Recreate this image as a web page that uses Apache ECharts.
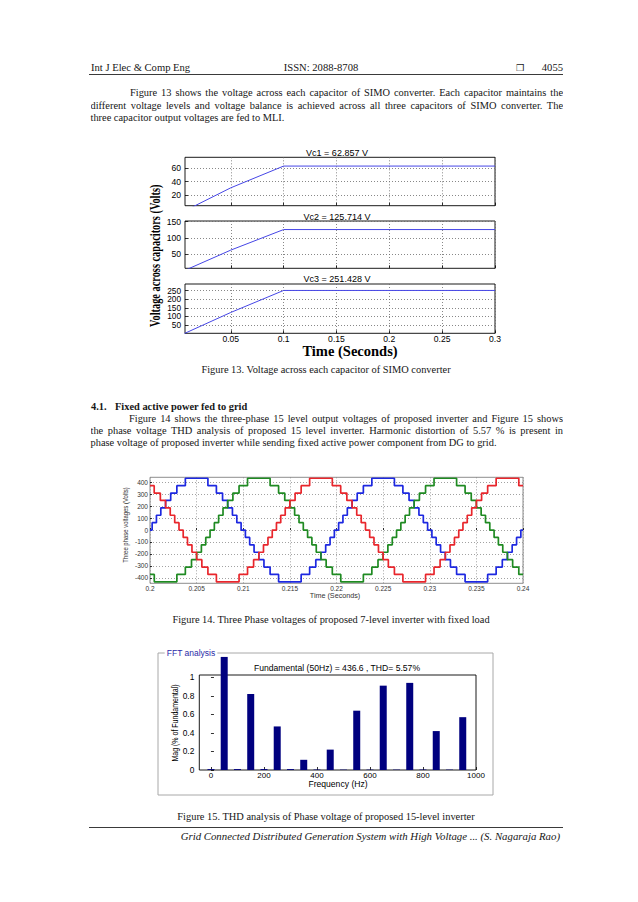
<!DOCTYPE html>
<html>
<head>
<meta charset="utf-8">
<script src="https://cdn.jsdelivr.net/npm/echarts@6/dist/echarts.min.js"></script>
<style>
html,body{margin:0;padding:0;background:#fff;}
#page{position:relative;width:638px;height:902px;overflow:hidden;background:#fff;}
#chart{position:absolute;left:0;top:0;width:638px;height:902px;}
.t{position:absolute;font-family:"Liberation Serif","Times New Roman",serif;font-size:10.4px;line-height:12px;height:12px;color:#161616;white-space:nowrap;}
.j{text-align:justify;text-align-last:justify;white-space:normal;overflow:hidden;}
.c{text-align:center;}
.b{font-weight:bold;}
.i{font-style:italic;}
.rule{position:absolute;left:89px;width:474px;height:0;border-top:1px solid #3a3a3a;}
</style>
</head>
<body>
<div id="page">
  <div id="chart"></div>

  <div class="t" style="left:91px;top:61.5px;font-size:10.6px;">Int J Elec &amp; Comp Eng</div>
  <div class="t c" style="left:221px;top:61.5px;width:200px;font-size:10.6px;">ISSN: 2088-8708</div>
  <div class="t" style="left:516px;top:61.5px;font-family:'DejaVu Sans',sans-serif;font-size:9px;">&#10066;</div>
  <div class="t" style="left:503px;top:61.5px;width:60px;text-align:right;font-size:10.6px;">4055</div>
  <div class="rule" style="top:74px;"></div>

  <div class="t j" style="left:130px;top:87.3px;width:433px;">Figure 13 shows the voltage across each capacitor of SIMO converter. Each capacitor maintains the</div>
  <div class="t j" style="left:90.5px;top:99.7px;width:472.5px;">different voltage levels and voltage balance is achieved across all three capacitors of SIMO converter. The</div>
  <div class="t" style="left:90.5px;top:112.3px;">three capacitor output voltages are fed to MLI.</div>

  <div class="t c" style="left:89px;top:364px;width:474px;">Figure 13. Voltage across each capacitor of SIMO converter</div>

  <div class="t b" style="left:91px;top:400.7px;">4.1.</div>
  <div class="t b" style="left:115px;top:400.7px;">Fixed active power fed to grid</div>
  <div class="t j" style="left:129px;top:413.3px;width:434px;">Figure 14 shows the three-phase 15 level output voltages of proposed inverter and Figure 15 shows</div>
  <div class="t j" style="left:90.5px;top:425.3px;width:472.5px;">the phase voltage THD analysis of proposed 15 level inverter. Harmonic distortion of 5.57 % is present in</div>
  <div class="t" style="left:90.5px;top:437.3px;">phase voltage of proposed inverter while sending fixed active power component from DG to grid.</div>

  <div class="t c" style="left:94px;top:614px;width:474px;">Figure 14. Three Phase voltages of proposed 7-level inverter with fixed load</div>
  <div class="t c" style="left:89px;top:810.7px;width:474px;">Figure 15. THD analysis of Phase voltage of proposed 15-level inverter</div>
  <div class="rule" style="top:826.5px;"></div>
  <div class="t i" style="right:78px;top:829.7px;text-align:right;font-size:10.8px;">Grid Connected Distributed Generation System with High Voltage ... (S. Nagaraja Rao)</div>
</div>

<script>
// ---------------- Figure 13: capacitor voltages of SIMO converter ----------------
const vc1Time = [0.010, 0.050, 0.100, 0.300];
const vc1Volt = [0, 31, 62.857, 62.857];
const vc2Time = [0.007, 0.050, 0.100, 0.300];
const vc2Volt = [0, 62, 125.714, 125.714];
const vc3Time = [0.006, 0.050, 0.100, 0.300];
const vc3Volt = [0, 123, 251.428, 251.428];
const fig13Titles = ['Vc1 = 62.857 V', 'Vc2 = 125.714 V', 'Vc3 = 251.428 V'];
const fig13XTicks = [0.05, 0.1, 0.15, 0.2, 0.25, 0.3];
const vc1YTicks = [20, 40, 60];
const vc2YTicks = [50, 100, 150];
const vc3YTicks = [50, 100, 150, 200, 250];

// ---------------- Figure 14: three phase staircase voltages ----------------
// switching instants in milliseconds after t = 0.2 s, and the level held after each instant (V)
const phaseStartTime = 0.2;
const blueMs = [0, 0.23, 0.69, 1.16, 1.67, 2.22, 2.88, 3.79, 6.21, 7.12, 7.78, 8.33, 8.84, 9.31, 9.77,
  10.23, 10.69, 11.16, 11.67, 12.22, 12.88, 13.79, 16.21, 17.12, 17.78, 18.33, 18.84, 19.31, 19.77,
  20.23, 20.69, 21.16, 21.67, 22.22, 22.88, 23.79, 26.21, 27.12, 27.78, 28.33, 28.84, 29.31, 29.77,
  30.23, 30.69, 31.16, 31.67, 32.22, 32.88, 33.79, 36.21, 37.12, 37.78, 38.33, 38.84, 39.31, 39.77, 40];
const blueVolt = [0, 62, 124, 186, 248, 310, 372, 434, 372, 310, 248, 186, 124, 62, 0,
  -62, -124, -186, -248, -310, -372, -434, -372, -310, -248, -186, -124, -62, 0,
  62, 124, 186, 248, 310, 372, 434, 372, 310, 248, 186, 124, 62, 0,
  -62, -124, -186, -248, -310, -372, -434, -372, -310, -248, -186, -124, -62, 0, 0];
const greenMs = [0, 0.46, 2.88, 3.79, 4.45, 5.00, 5.51, 5.98, 6.44, 6.90, 7.36, 7.83, 8.33, 8.89, 9.55, 10.46,
  12.88, 13.79, 14.45, 15.00, 15.51, 15.98, 16.44, 16.90, 17.36, 17.83, 18.33, 18.89, 19.55,
  20.46, 22.88, 23.79, 24.45, 25.00, 25.51, 25.98, 26.44, 26.90, 27.36, 27.83, 28.33, 28.89, 29.55, 30.46,
  32.88, 33.79, 34.45, 35.00, 35.51, 35.98, 36.44, 36.90, 37.36, 37.83, 38.33, 38.89, 39.55, 40];
const greenVolt = [-372, -434, -372, -310, -248, -186, -124, -62, 0, 62, 124, 186, 248, 310, 372, 434,
  372, 310, 248, 186, 124, 62, 0, -62, -124, -186, -248, -310, -372,
  -434, -372, -310, -248, -186, -124, -62, 0, 62, 124, 186, 248, 310, 372, 434,
  372, 310, 248, 186, 124, 62, 0, -62, -124, -186, -248, -310, -372, -372];
const redMs = [0, 0.45, 1.11, 1.67, 2.17, 2.65, 3.11, 3.56, 4.02, 4.50, 5.00, 5.56, 6.21, 7.12,
  9.55, 10.46, 11.11, 11.67, 12.17, 12.65, 13.11, 13.56, 14.02, 14.50, 15.00, 15.56, 16.21, 17.12, 19.55,
  20.45, 21.11, 21.67, 22.17, 22.65, 23.11, 23.56, 24.02, 24.50, 25.00, 25.56, 26.21, 27.12,
  29.55, 30.46, 31.11, 31.67, 32.17, 32.65, 33.11, 33.56, 34.02, 34.50, 35.00, 35.56, 36.21, 37.12, 39.55, 40];
const redVolt = [372, 310, 248, 186, 124, 62, 0, -62, -124, -186, -248, -310, -372, -434,
  -372, -310, -248, -186, -124, -62, 0, 62, 124, 186, 248, 310, 372, 434, 372,
  310, 248, 186, 124, 62, 0, -62, -124, -186, -248, -310, -372, -434,
  -372, -310, -248, -186, -124, -62, 0, 62, 124, 186, 248, 310, 372, 434, 372, 372];
const fig14XTicks = [0.2, 0.205, 0.21, 0.215, 0.22, 0.225, 0.23, 0.235, 0.24];
const fig14YTicks = [-400, -300, -200, -100, 0, 100, 200, 300, 400];

// ---------------- Figure 15: FFT analysis ----------------
const harmonicHz  = [0, 50, 100, 150, 200, 250, 300, 350, 400, 450, 500, 550, 600, 650, 700, 750, 800, 850, 900, 950];
const harmonicMag = [0.01, 1.22, 0.01, 0.82, 0.01, 0.47, 0.01, 0.11, 0.005, 0.22, 0.004, 0.64, 0.004, 0.91, 0.004, 0.94, 0.005, 0.42, 0.004, 0.57];
const fftXTicks = [0, 200, 400, 600, 800, 1000];
const fftYTicks = [0, 0.2, 0.4, 0.6, 0.8, 1];
const fftTitle = 'Fundamental (50Hz) = 436.6 , THD= 5.57%';

// ---------------- build ----------------
const SANS = '"Liberation Sans", Arial, Helvetica, sans-serif';
const SERIF = '"Liberation Serif", "Times New Roman", serif';
const fmt = v => String(Math.round(v * 10000) / 10000);
const zip = (xs, ys) => xs.map((x, i) => [x, ys[i]]);
const stepData = (ms, v) => ms.map((m, i) => [phaseStartTime + m / 1000, v[i]]);

function axis(gi, min, max, ticks, o) {
  return {
    type: 'value', gridIndex: gi, min: min, max: max,
    axisLine: { show: false },
    axisTick: { show: true, inside: true, length: o.tick || 3, customValues: ticks,
      lineStyle: { color: o.tickColor || '#000', width: 0.8 } },
    axisLabel: { show: o.labels !== false, customValues: ticks, fontSize: o.fs, fontFamily: SANS,
      color: o.labelColor || '#000', margin: o.margin, formatter: fmt,
      showMinLabel: true, showMaxLabel: true, hideOverlap: false },
    splitLine: { show: o.split !== false,
      lineStyle: { color: o.gridColor || '#6a6a6a', width: 0.8, type: [1, 2] } }
  };
}

const grids = [
  { left: 185, top: 157.3, width: 310, height: 48.4 },
  { left: 185, top: 221, width: 310, height: 47.3 },
  { left: 185, top: 284, width: 310, height: 49.3 },
  { left: 150, top: 477.3, width: 373, height: 106 },
  { left: 199.3, top: 675, width: 276.7, height: 95 }
].map((g, i) => Object.assign(g, {
  show: true, backgroundColor: 'rgba(0,0,0,0)',
  borderColor: i === 3 ? '#808080' : '#000', borderWidth: 0.9
}));

const xAxes = [
  axis(0, 0.0067, 0.3, fig13XTicks, { fs: 8.6, margin: 1, labels: false }),
  axis(1, 0.0067, 0.3, fig13XTicks, { fs: 8.6, margin: 1, labels: false }),
  axis(2, 0.0067, 0.3, fig13XTicks, { fs: 8.6, margin: 1 }),
  axis(3, 0.2, 0.24, fig14XTicks, { fs: 6.5, margin: 1.5, labelColor: '#333', gridColor: '#8a8a8a', tick: 2 }),
  axis(4, -44, 1000, fftXTicks, { fs: 8, margin: 1.5, split: false, tick: 3 })
];
const yAxes = [
  axis(0, 4.8, 75.7, vc1YTicks, { fs: 8.6, margin: 4 }),
  axis(1, 5.7, 152.2, vc2YTicks, { fs: 8.6, margin: 4 }),
  axis(2, 1.6, 289, vc3YTicks, { fs: 8.3, margin: 4 }),
  axis(3, -446, 442, fig14YTicks, { fs: 6.5, margin: 2, labelColor: '#333', gridColor: '#8a8a8a', tick: 2 }),
  axis(4, 0, 1.025, fftYTicks, { fs: 8.4, margin: 5, split: false, tick: 3 })
];

function lineSeries(idx, data, color, width, step) {
  return { type: 'line', xAxisIndex: idx, yAxisIndex: idx, data: data, step: step || false,
    symbol: 'none', clip: true, silent: true, lineStyle: { color: color, width: width } };
}

const series = [
  lineSeries(0, zip(vc1Time, vc1Volt), '#4646e6', 1),
  lineSeries(1, zip(vc2Time, vc2Volt), '#4646e6', 1),
  lineSeries(2, zip(vc3Time, vc3Volt), '#4646e6', 1),
  lineSeries(3, stepData(blueMs, blueVolt), '#1d28e0', 1.7, 'end'),
  lineSeries(3, stepData(greenMs, greenVolt), '#1f8a22', 1.7, 'end'),
  lineSeries(3, stepData(redMs, redVolt), '#e8262c', 1.7, 'end'),
  { type: 'bar', xAxisIndex: 4, yAxisIndex: 4, data: zip(harmonicHz, harmonicMag),
    barWidth: 7, clip: false, silent: true, itemStyle: { color: '#00007f' } }
];

function txt(x, y, text, style, extra) {
  return Object.assign({ type: 'text', x: x, y: y, silent: true,
    style: Object.assign({ text: text, align: 'center', verticalAlign: 'middle', fill: '#000',
      fontFamily: SANS, fontSize: 9 }, style) }, extra || {});
}

const graphic = [
  // FFT panel
  { type: 'rect', z: -10, silent: true, shape: { x: 158, y: 653, width: 335, height: 142 },
    style: { fill: '#fff', stroke: '#a8a8a8', lineWidth: 1 } },
  txt(191, 653, 'FFT analysis', { fill: '#2a2aa8', fontSize: 8.5, backgroundColor: '#fff', padding: [0, 2] }),
  txt(337, 668, fftTitle, { fontSize: 8.6 }),
  txt(338, 784, 'Frequency (Hz)', { fontSize: 8.6 }),
  txt(175, 723, 'Mag (% of Fundamental)', { fontSize: 9 }, { rotation: Math.PI / 2, scaleX: 0.78 }),
  // Figure 13
  txt(337, 152.7, fig13Titles[0], { fontSize: 9 }),
  txt(337, 217.3, fig13Titles[1], { fontSize: 9 }),
  txt(337, 279.3, fig13Titles[2], { fontSize: 9 }),
  txt(350, 350.5, 'Time (Seconds)', { fontFamily: SERIF, fontWeight: 'bold', fontSize: 14.5 }),
  txt(155.5, 255.8, 'Voltage across capacitors (Volts)', { fontFamily: SERIF, fontWeight: 'bold', fontSize: 15 },
    { rotation: Math.PI / 2, scaleX: 0.69 }),
  // Figure 14
  txt(335, 595, 'Time (Seconds)', { fontSize: 7.2, fill: '#333' }),
  txt(125, 525, 'Three phase voltages (Volts)', { fontSize: 7, fill: '#333' }, { rotation: Math.PI / 2, scaleX: 0.85 })
];

const chart = echarts.init(document.getElementById('chart'), null, { renderer: 'svg' });
chart.setOption({
  animation: false,
  backgroundColor: '#fff',
  grid: grids,
  xAxis: xAxes,
  yAxis: yAxes,
  series: series,
  graphic: graphic
});
</script>
</body>
</html>
